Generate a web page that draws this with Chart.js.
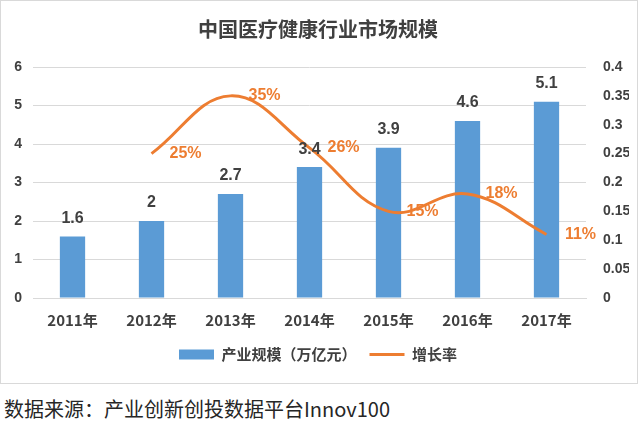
<!DOCTYPE html>
<html>
<head>
<meta charset="utf-8">
<script src="https://cdn.jsdelivr.net/npm/chart.js@4.4.1/dist/chart.umd.min.js"></script>
<style>
  body { margin: 0; background: #fff; }
  #wrap { position: absolute; left: 0; top: 0; width: 636px; height: 382px; border: 1px solid #d9d9d9; }
  #source { position: absolute; left: 4px; top: 394px; font-family: "Noto Sans CJK SC", sans-serif; font-size: 20px; color: #262626; }
</style>
</head>
<body>
<div id="wrap"><canvas id="marketChart" width="636" height="382"></canvas></div>
<div id="source">数据来源：产业创新创投数据平台Innov100</div>
<script>
// adatok
const years = ['2011年', '2012年', '2013年', '2014年', '2015年', '2016年', '2017年'];
const marketSize = [1.6, 2, 2.7, 3.4, 3.9, 4.6, 5.1];
const growthRate = [null, 0.25, 0.35, 0.26, 0.15, 0.18, 0.11];
const growthLabels = [null, '25%', '35%', '26%', '15%', '18%', '11%'];

const cjk = '"Noto Sans CJK SC", sans-serif';
const num = '"Liberation Sans", Arial, sans-serif';

// értékcímkék kirajzolása (nincs datalabels plugin)
const valueLabels = {
    id: 'valueLabels',
    afterDatasetsDraw(chart) {
        const ctx = chart.ctx;
        ctx.save();
        ctx.font = 'bold 16px ' + num;
        ctx.textAlign = 'center';

        const bars = chart.getDatasetMeta(0).data;
        ctx.fillStyle = '#404040';
        ctx.textBaseline = 'bottom';
        bars.forEach((bar, i) => {
            ctx.fillText(String(marketSize[i]), bar.x, bar.y - 10);
        });

        const points = chart.getDatasetMeta(1).data;
        ctx.fillStyle = '#ed7d31';
        ctx.textBaseline = 'middle';
        points.forEach((pt, i) => {
            if (growthLabels[i] === null) return;
            ctx.fillText(growthLabels[i], pt.x + 34, pt.y);
        });
        ctx.restore();
    }
};

const ctx = document.getElementById('marketChart').getContext('2d');
new Chart(ctx, {
    data: {
        labels: years,
        datasets: [
            {
                type: 'bar',
                label: '产业规模（万亿元）',
                data: marketSize,
                backgroundColor: '#5b9bd5',
                pointStyle: 'rect',
                barPercentage: 0.64,
                categoryPercentage: 0.5,
                yAxisID: 'y',
                order: 2
            },
            {
                type: 'line',
                label: '增长率',
                data: growthRate,
                borderColor: '#ed7d31',
                backgroundColor: '#ed7d31',
                borderWidth: 3,
                pointRadius: 0,
                pointStyle: 'line',
                tension: 0.4,
                yAxisID: 'y1',
                order: 1
            }
        ]
    },
    options: {
        responsive: false,
        animation: false,
        layout: { padding: { left: 6, right: 8, top: 4, bottom: 11 } },
        plugins: {
            title: {
                display: true,
                text: '中国医疗健康行业市场规模',
                color: '#404040',
                font: { family: cjk, size: 20, weight: 'bold' },
                padding: { top: 12, bottom: 26 }
            },
            legend: {
                position: 'bottom',
                labels: {
                    usePointStyle: true,
                    pointStyleWidth: 35,
                    boxWidth: 35,
                    boxHeight: 10,
                    color: '#404040',
                    font: { family: cjk, size: 15, weight: 'bold' },
                    padding: 13,
                    sort: (a, b) => a.datasetIndex - b.datasetIndex
                }
            },
            tooltip: { enabled: false }
        },
        scales: {
            x: {
                grid: { display: false },
                border: { color: '#d9d9d9' },
                ticks: { color: '#404040', font: { family: cjk, size: 15, weight: 'bold' }, padding: 5 }
            },
            y: {
                position: 'left',
                min: 0,
                max: 6,
                ticks: { stepSize: 1, color: '#404040', font: { family: num, size: 14, weight: 'bold' }, padding: 11 },
                grid: { color: '#d9d9d9', drawTicks: false },
                border: { display: false },
                afterFit: s => { s.width = 26; }
            },
            y1: {
                position: 'right',
                min: 0,
                max: 0.4,
                ticks: {
                    stepSize: 0.05,
                    color: '#404040',
                    font: { family: num, size: 14, weight: 'bold' },
                    padding: 9,
                    callback: v => String(Math.round(v * 100) / 100)
                },
                grid: { display: false },
                border: { display: false },
                afterFit: s => { s.width = 43; }
            }
        }
    },
    plugins: [valueLabels]
});
</script>
</body>
</html>
